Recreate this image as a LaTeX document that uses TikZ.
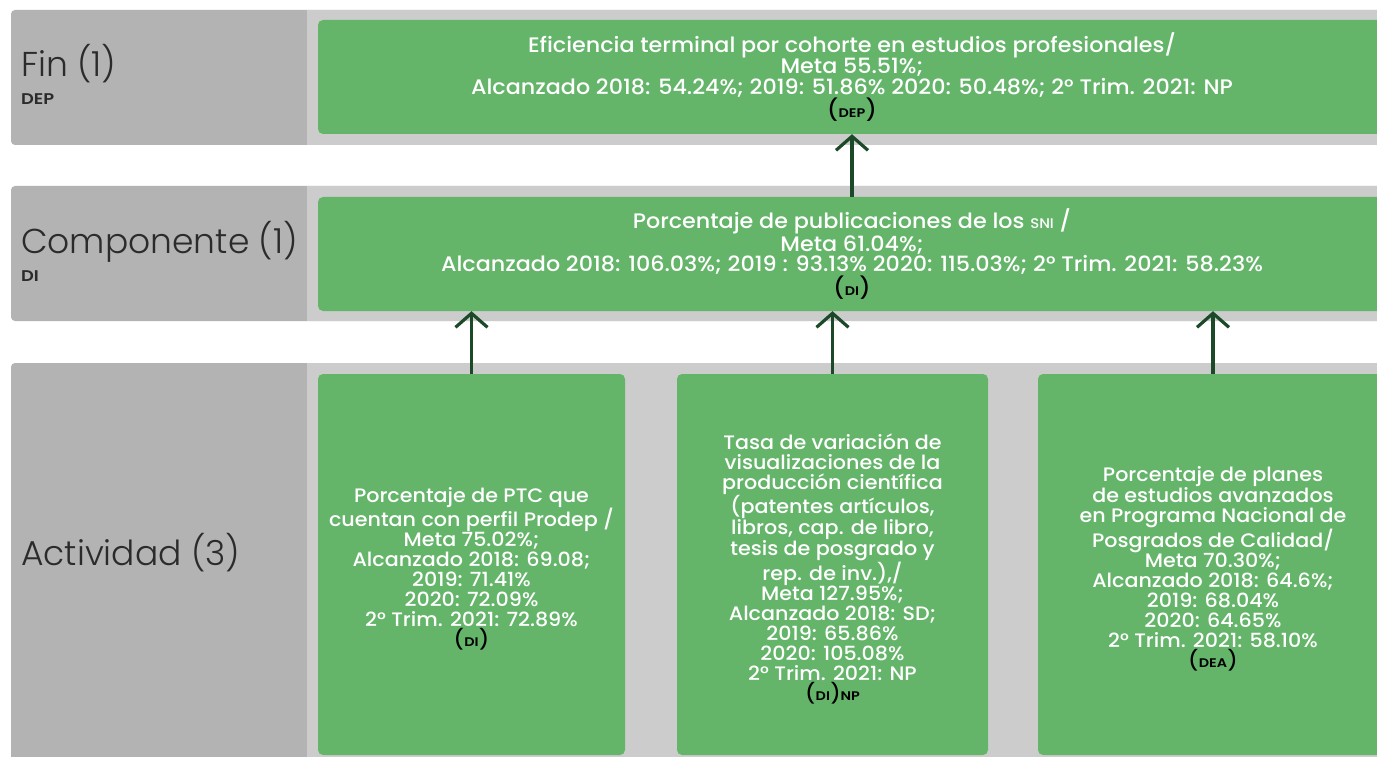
\documentclass[tikz,border=0pt]{standalone}
\usepackage{fontspec}
\setmainfont{Poppins Medium}[FakeStretch=1.06]
\newfontfamily\lightfam{Poppins Light}
\newfontfamily\semifam{Poppins SemiBold}[FakeStretch=1.15]
\usetikzlibrary{arrows.meta}
\definecolor{bandgrey}{HTML}{CCCCCC}
\definecolor{labgrey}{HTML}{B3B3B3}
\definecolor{boxgreen}{HTML}{64B56A}
\definecolor{arrowgreen}{HTML}{1C4A28}
\definecolor{labtext}{HTML}{2B2B2B}
\newcommand\bigbx{\fontsize{21}{20.4}\selectfont}
\newcommand\smbx{\fontsize{19.5}{20}\selectfont}
\newcommand\labfnt{\lightfam\fontsize{34.5}{38}\selectfont}
\newcommand\subfnt{\semifam\fontsize{15.5}{16}\selectfont}
\newcommand\tagsc[1]{\textcolor{black}{(\kern0.5pt{\semifam\fontsize{12.5}{12}\selectfont #1}\kern0.5pt)}}
\tikzset{
  greenbox/.style={fill=boxgreen, rounded corners=5pt, text=white, align=center, inner sep=0pt},
  wide/.style={greenbox, font=\bigbx, minimum width=1068pt, minimum height=114pt},
  act/.style={greenbox, minimum height=381pt},
  acttext/.style={text=white, align=center, inner sep=0pt, font=\smbx},
  arr/.style={draw=arrowgreen, line width=3.2pt, -{Straight Barb[length=14pt,width=32pt,line width=3.2pt]}},
  lab/.style={anchor=base west, text=labtext, font=\labfnt, inner sep=0pt},
  sublab/.style={anchor=base west, text=labtext, font=\subfnt, inner sep=0pt},
}
\begin{document}
\begin{tikzpicture}[x=1pt,y=-1pt]
\useasboundingbox (0,0) rectangle (1377,757);
\fill[white] (0,0) rectangle (1377,757);
\begin{scope}
\clip (0,0) rectangle (1377,757);
% bands
\fill[labgrey, rounded corners=4pt] (11,10) rectangle (1420,145);
\fill[bandgrey] (307,10) rectangle (1420,145);
\fill[labgrey, rounded corners=4pt] (11,186) rectangle (1420,321);
\fill[bandgrey] (307,186) rectangle (1420,321);
\fill[labgrey, rounded corners=4pt] (11,363) rectangle (1420,800);
\fill[bandgrey] (307,363) rectangle (1420,800);

% labels
\node[lab] (lfin) at (21,77) {Fin (1)};
\node[sublab] (sfin) at (21,105) {DEP};
\node[lab] (lcomp) at (21,253) {Componente (1)};
\node[sublab] (scomp) at (21,281) {DI};
\node[lab] (lact) at (21,565) {Actividad (3)};

% green boxes
\node[wide] (fin) at (852,77)
  {Eficiencia terminal por cohorte en estudios profesionales/\\
   Meta 55.51\%;\\
   Alcanzado 2018: 54.24\%; 2019: 51.86\% 2020: 50.48\%; 2° Trim. 2021: NP\\
   \tagsc{DEP}};
\node[wide] (comp) at (852,254)
  {Porcentaje de publicaciones de los {\fontsize{14}{14}\selectfont SNI} /\\
   Meta 61.04\%;\\
   Alcanzado 2018: 106.03\%; 2019 : 93.13\% 2020: 115.03\%; 2° Trim. 2021: 58.23\%\\
   \tagsc{DI}};
\node[act, minimum width=307pt] (a1) at (471.5,564.5) {};
\node[act, minimum width=311pt] (a2) at (832.5,564.5) {};
\node[act, minimum width=350pt] (a3) at (1213,564.5) {};

\node[acttext] (t1) at ([yshift=-4.5pt]a1.center)
  {Porcentaje de PTC que\\
   cuentan con perfil Prodep /\\
   Meta 75.02\%;\\
   Alcanzado 2018: 69.08;\\
   2019: 71.41\%\\
   2020: 72.09\%\\
   2° Trim. 2021: 72.89\%\\
   \tagsc{DI}};
\node[acttext] (t2) at ([yshift=-4.5pt]a2.center)
  {Tasa de variación de\\
   visualizaciones de la\\
   producción científica\\
   (patentes artículos,\\
   libros, cap. de libro,\\
   tesis de posgrado y\\
   rep. de inv.),/\\
   Meta 127.95\%;\\
   Alcanzado 2018: SD;\\
   2019: 65.86\%\\
   2020: 105.08\%\\
   2° Trim. 2021: NP\\
   \tagsc{DI}{\color{black}\semifam\fontsize{12.5}{12}\selectfont NP}};
\node[acttext] (t3) at ([yshift=-4.5pt]a3.center)
  {Porcentaje de planes\\
   de estudios avanzados\\
   en Programa Nacional de\\
   Posgrados de Calidad/\\
   Meta 70.30\%;\\
   Alcanzado 2018: 64.6\%;\\
   2019: 68.04\%\\
   2020: 64.65\%\\
   2° Trim. 2021: 58.10\%\\
   \tagsc{DEA}};

% arrows
\draw[arr] (comp.north) -- (fin.south);
\draw[arr] (a1.north) -- (a1.north |- comp.south);
\draw[arr] (a2.north) -- (a2.north |- comp.south);
\draw[arr] (a3.north) -- (a3.north |- comp.south);
\end{scope}
\end{tikzpicture}
\end{document}
